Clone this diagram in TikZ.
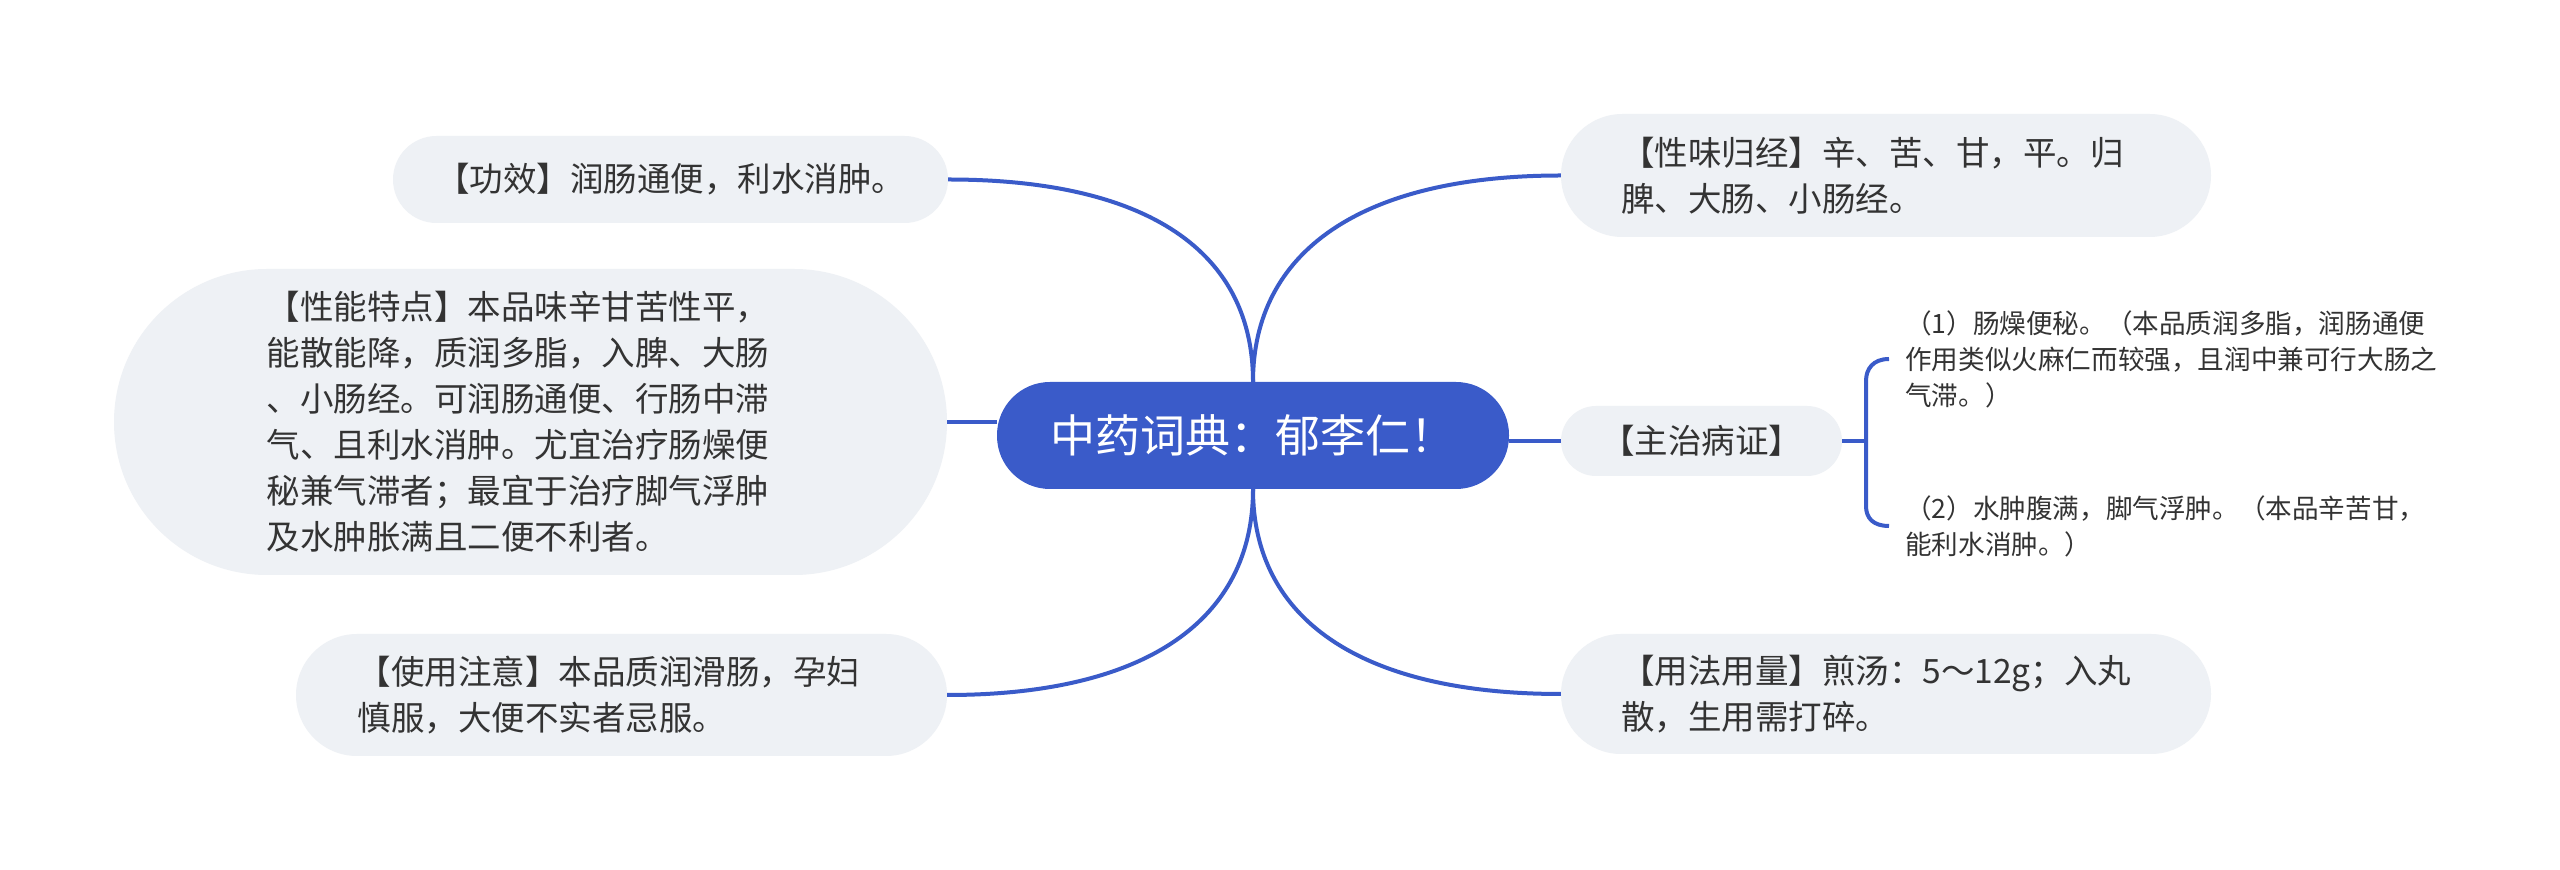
\documentclass[tikz,border=0pt]{standalone}
\usepackage{fontspec}
\setmainfont{Noto Sans CJK SC}
\usetikzlibrary{positioning}
\definecolor{mainblue}{RGB}{58,91,201}
\definecolor{boxgray}{RGB}{238,241,245}
\definecolor{txtgray}{RGB}{51,51,51}
\tikzset{%
	root/.style  = {rectangle, fill=mainblue, text=white, rounded corners=53pt, minimum width=512pt, minimum height=107pt, inner sep=0pt, font=\fontsize{45}{52}\selectfont},
	topic/.style = {rectangle, fill=boxgray, text=txtgray, inner sep=0pt, align=left, font=\fontsize{33.5}{46}\selectfont},
	pill/.style 2 args = {minimum width=#1pt, minimum height=#2pt, rounded corners=#2pt/2},
	leaf/.style  = {anchor=west, inner xsep=16pt, inner ysep=0pt, text=txtgray, align=left, text width=560pt, font=\fontsize{26.6}{36}\selectfont},
	link/.style  = {draw=mainblue, line width=4pt},
}
\begin{document}
\begin{tikzpicture}[x=1pt,y=1pt]
	\fill[white] (0,0) rectangle (2560,870);
	\node[root] (yuliren) at (1253,434.5) {中药词典：郁李仁！};
	\node[topic, pill={555}{87}] (gongxiao) at (670.5,690.5) {【功效】润肠通便，利水消肿。};
	\node[topic, pill={833}{306}, text width=528pt] (xingneng) at (530.5,448) {【性能特点】本品味辛甘苦性平，\\能散能降，质润多脂，入脾、大肠\\、小肠经。可润肠通便、行肠中滞\\气、且利水消肿。尤宜治疗肠燥便\\秘兼气滞者；最宜于治疗脚气浮肿\\及水肿胀满且二便不利者。};
	\node[topic, pill={651}{122}, text width=528pt] (shiyong) at (621.5,175) {【使用注意】本品质润滑肠，孕妇\\慎服，大便不实者忌服。};
	\node[topic, pill={650}{123}, text width=530pt] (xingwei) at (1886,694.5) {【性味归经】辛、苦、甘，平。归\\脾、大肠、小肠经。};
	\node[topic, pill={281}{70}] (zhuzhi) at (1701.5,429) {【主治病证】};
	\node[topic, pill={650}{120}, text width=530pt] (yongfa) at (1886,176) {【用法用量】煎汤：5～12g；入丸\\散，生用需打碎。};
	\node[leaf] (bing1) at (1889,511) {（1）肠燥便秘。（本品质润多脂，润肠通便\\作用类似火麻仁而较强，且润中兼可行大肠之\\气滞。）};
	\node[leaf] (bing2) at (1889,344) {（2）水肿腹满，脚气浮肿。（本品辛苦甘，\\能利水消肿。）};
	\coordinate (brace) at (1866,429);

	\draw[link] (gongxiao.east) .. controls +(200,0) and +(0,130) .. (yuliren.north);
	\draw[link] (xingwei.west) .. controls +(-200,0) and +(0,130) .. (yuliren.north);
	\draw[link] (shiyong.east) .. controls +(200,0) and +(0,-130) .. (yuliren.south);
	\draw[link] (yongfa.west) .. controls +(-200,0) and +(0,-130) .. (yuliren.south);
	\draw[link] (xingneng.east) -- (xingneng.east -| yuliren.west);
	\draw[link] (zhuzhi.west) -- (zhuzhi.west -| yuliren.east);
	\draw[link] (zhuzhi.east) -- (brace);
	\draw[link] (bing1.west) .. controls +(-16,0) and +(0,12) .. ([yshift=-22pt]brace |- bing1.west) -- ([yshift=20pt]brace |- bing2.west) .. controls +(0,-12) and +(-16,0) .. (bing2.west);
\end{tikzpicture}
\end{document}
